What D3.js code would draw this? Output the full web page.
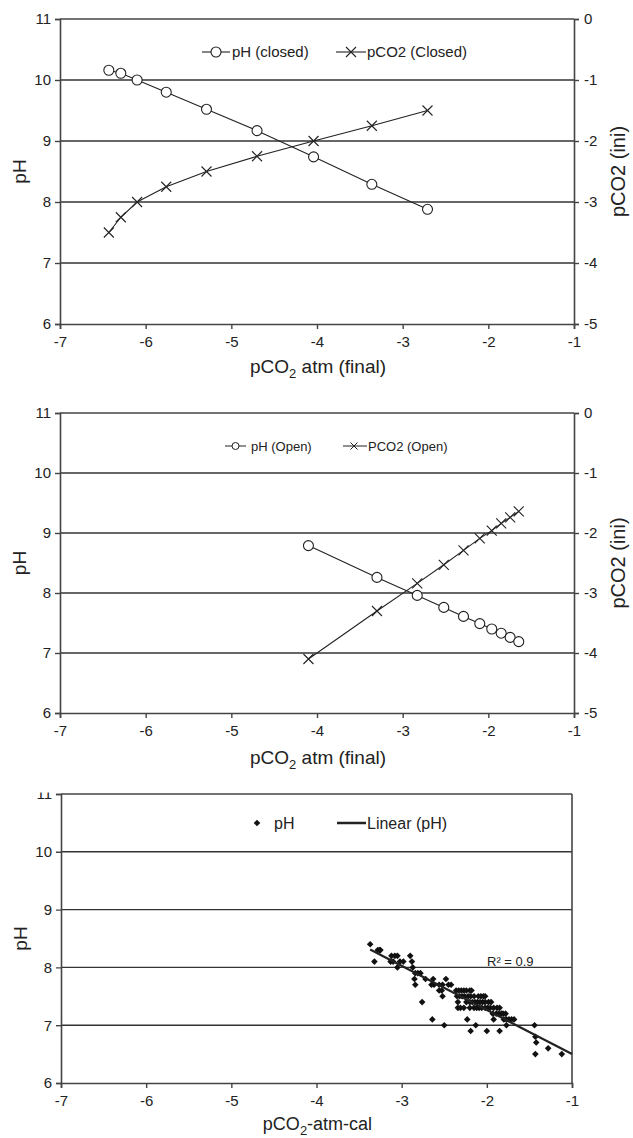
<!DOCTYPE html>
<html>
<head>
<meta charset="utf-8">
<script src="https://cdn.jsdelivr.net/npm/d3@7"></script>
<style>
  html, body { margin: 0; padding: 0; background: #fff; }
  svg { display: block; font-family: Arial, "Liberation Sans", sans-serif; }
</style>
</head>
<body>
<svg id="chart" width="633" height="1138"></svg>
<script>
// ---------- data ----------
const xTicks = [-7, -6, -5, -4, -3, -2, -1];
const phTicks = [6, 7, 8, 9, 10, 11];
const iniTicks = [-5, -4, -3, -2, -1, 0];

// Panel 1: closed system
const closedX   = [-6.43, -6.29, -6.10, -5.76, -5.29, -4.70, -4.04, -3.36, -2.71];
const closedPH  = [10.16, 10.11, 10.00, 9.80, 9.52, 9.17, 8.74, 8.29, 7.88];
const closedIni = [-3.5, -3.25, -3.0, -2.75, -2.5, -2.25, -2.0, -1.75, -1.5];

// Panel 2: open system
const openX   = [-4.10, -3.30, -2.83, -2.52, -2.29, -2.10, -1.96, -1.85, -1.745, -1.645];
const openPH  = [8.79, 8.26, 7.96, 7.76, 7.61, 7.49, 7.40, 7.33, 7.26, 7.19];
const openIni = [-4.10, -3.30, -2.84, -2.53, -2.29, -2.09, -1.96, -1.84, -1.74, -1.64];

// Panel 3: measured pH vs calculated pCO2 (points grouped by pH level)
const scatterLevels = [8.4, 8.3, 8.2, 8.1, 8.0, 7.9, 7.8, 7.7, 7.6, 7.5, 7.4, 7.3, 7.2, 7.1, 7.0, 6.9, 6.8, 6.7, 6.6, 6.5];
const scatterXs = [
  [-3.37],
  [-3.28, -3.26, -3.25],
  [-3.12, -3.08, -3.05, -2.90],
  [-3.32, -3.13, -3.10, -3.02, -2.98, -2.88],
  [-3.05, -2.87],
  [-2.84, -2.81, -2.78],
  [-2.85, -2.72, -2.63, -2.48],
  [-2.84, -2.65, -2.62, -2.56, -2.52, -2.45, -2.42],
  [-2.56, -2.53, -2.36, -2.33, -2.30, -2.27, -2.24, -2.20, -2.18],
  [-2.52, -2.35, -2.32, -2.29, -2.26, -2.22, -2.19, -2.15, -2.10, -2.07, -2.04, -2.02],
  [-2.76, -2.34, -2.24, -2.20, -2.17, -2.14, -2.11, -2.08, -2.05, -2.02, -1.98, -1.95],
  [-2.34, -2.31, -2.27, -2.20, -2.15, -2.12, -2.09, -2.06, -2.02, -1.99, -1.96, -1.92, -1.88, -1.85],
  [-1.93, -1.89, -1.86, -1.83, -1.81, -1.78],
  [-2.64, -2.23, -1.92, -1.80, -1.77, -1.74, -1.71, -1.68],
  [-2.50, -2.13, -1.77, -1.44],
  [-2.19, -2.00, -1.85],
  [-1.43],
  [-1.42],
  [-1.28],
  [-1.43, -1.12]
];
const trendX  = [-3.37, -1.0];
const trendPH = [8.31, 6.50];
const rSquaredLabel = "R² = 0.9";

// ---------- drawing ----------
const svg = d3.select("#chart");
const INK = "#222";
const FRAME = "#444";
const TICK_FONT = "15px";

function panel(opt) {
  const g = svg.append("g");
  if (opt.clipTop != null) {
    const id = "clip" + Math.round(opt.top);
    svg.append("clipPath").attr("id", id).append("rect")
      .attr("x", 0).attr("y", opt.clipTop).attr("width", 633).attr("height", 1138 - opt.clipTop);
    g.attr("clip-path", `url(#${id})`);
  }
  const x = d3.scaleLinear().domain([-7, -1]).range([opt.left, opt.right]);
  const y = d3.scaleLinear().domain([6, 11]).range([opt.bottom, opt.top]);

  g.append("g").selectAll("line").data(phTicks.filter(t => t > 6 && t < 11)).join("line")
    .attr("x1", opt.left).attr("x2", opt.right)
    .attr("y1", d => y(d)).attr("y2", d => y(d))
    .attr("stroke", "#333").attr("stroke-width", 1.4);
  g.append("line").attr("x1", opt.left).attr("x2", opt.right)
    .attr("y1", y(11)).attr("y2", y(11)).attr("stroke", FRAME).attr("stroke-width", 1.6);

  const la = g.append("g").attr("transform", `translate(${opt.left},0)`)
    .call(d3.axisLeft(y).tickValues(phTicks).tickSize(5).tickPadding(4).tickFormat(d3.format("d")));
  const ba = g.append("g").attr("transform", `translate(0,${opt.bottom})`)
    .call(d3.axisBottom(x).tickValues(xTicks).tickSize(5).tickPadding(7).tickFormat(d => "-" + Math.abs(d)));
  [la, ba].forEach(a => {
    a.select(".domain").attr("stroke", FRAME).attr("stroke-width", 1.6);
    a.selectAll(".tick line").attr("stroke", FRAME).attr("stroke-width", 1.4);
    a.selectAll("text").attr("fill", INK).style("font-size", TICK_FONT);
  });
  if (opt.rightAxis) {
    const yr = d3.scaleLinear().domain([-5, 0]).range([opt.bottom, opt.top]);
    const ra = g.append("g").attr("transform", `translate(${opt.right},0)`)
      .call(d3.axisRight(yr).tickValues(iniTicks).tickSize(5).tickPadding(5).tickFormat(d => d === 0 ? "0" : "-" + Math.abs(d)));
    ra.select(".domain").attr("stroke", FRAME).attr("stroke-width", 1.6);
    ra.selectAll(".tick line").attr("stroke", FRAME).attr("stroke-width", 1.4);
    ra.selectAll("text").attr("fill", INK).style("font-size", TICK_FONT);
    g.append("text").attr("transform", `translate(${opt.right + 44},${(opt.top + opt.bottom) / 2}) rotate(-90)`)
      .attr("text-anchor", "middle").attr("dy", "0.35em").attr("fill", INK).style("font-size", "20px")
      .text("pCO2 (ini)");
    opt.yr = yr;
  } else {
    g.append("line").attr("x1", opt.right).attr("x2", opt.right)
      .attr("y1", opt.top).attr("y2", opt.bottom).attr("stroke", FRAME).attr("stroke-width", 1.6);
  }
  g.append("text").attr("transform", `translate(${opt.left - 41},${(opt.top + opt.bottom) / 2}) rotate(-90)`)
    .attr("text-anchor", "middle").attr("dy", "0.35em").attr("fill", INK).style("font-size", "19px")
    .text("pH");
  const tt = g.append("text").attr("x", (opt.left + opt.right) / 2 + 1).attr("y", opt.titleY)
    .attr("text-anchor", "middle").attr("fill", INK).style("font-size", opt.titleSize + "px");
  tt.append("tspan").text("pCO");
  tt.append("tspan").attr("dy", 5).style("font-size", Math.round(opt.titleSize * 0.7) + "px").text("2");
  tt.append("tspan").attr("dy", -5).text(opt.titleRest);

  opt.x = x; opt.y = y; opt.g = g;
  return opt;
}

function circles(g, xs, ys, sx, sy, r) {
  g.append("g").selectAll("circle").data(xs.map((v, i) => [v, ys[i]])).join("circle")
    .attr("cx", d => sx(d[0])).attr("cy", d => sy(d[1])).attr("r", r)
    .attr("fill", "#fff").attr("stroke", INK).attr("stroke-width", 1.1);
}
function crosses(g, xs, ys, sx, sy, h) {
  g.append("g").selectAll("path").data(xs.map((v, i) => [v, ys[i]])).join("path")
    .attr("d", d => {
      const cx = sx(d[0]), cy = sy(d[1]);
      return `M${cx - h},${cy - h}L${cx + h},${cy + h}M${cx - h},${cy + h}L${cx + h},${cy - h}`;
    })
    .attr("stroke", INK).attr("stroke-width", 1.1).attr("fill", "none");
}
function polyline(g, xs, ys, sx, sy, w) {
  g.append("path").datum(xs.map((v, i) => [v, ys[i]]))
    .attr("d", d3.line().x(d => sx(d[0])).y(d => sy(d[1])))
    .attr("fill", "none").attr("stroke", INK).attr("stroke-width", w);
}

// ---- Panel 1 ----
const p1 = panel({ left: 60, right: 574, top: 19, bottom: 324, rightAxis: true, titleY: 373, titleSize: 19, titleRest: " atm (final)" });
polyline(p1.g, closedX, closedPH, p1.x, p1.y, 1.1);
polyline(p1.g, closedX, closedIni, p1.x, p1.yr, 1.1);
circles(p1.g, closedX, closedPH, p1.x, p1.y, 5);
crosses(p1.g, closedX, closedIni, p1.x, p1.yr, 5);
{
  const lg = p1.g.append("g").attr("transform", "translate(0,52)");
  lg.append("line").attr("x1", 202).attr("x2", 230).attr("stroke", INK).attr("stroke-width", 1.1);
  lg.append("circle").attr("cx", 216).attr("r", 5).attr("fill", "#fff").attr("stroke", INK).attr("stroke-width", 1.1);
  lg.append("text").attr("x", 232).attr("dy", "0.35em").attr("fill", INK).style("font-size", "15px").text("pH (closed)");
  lg.append("line").attr("x1", 336).attr("x2", 366).attr("stroke", INK).attr("stroke-width", 1.1);
  lg.append("path").attr("d", "M346,-5L356,5M346,5L356,-5").attr("stroke", INK).attr("stroke-width", 1.1);
  lg.append("text").attr("x", 367).attr("dy", "0.35em").attr("fill", INK).style("font-size", "15px").text("pCO2 (Closed)");
}

// ---- Panel 2 ----
const p2 = panel({ left: 60, right: 574, top: 413, bottom: 713, rightAxis: true, titleY: 764, titleSize: 19, titleRest: " atm (final)" });
polyline(p2.g, openX, openPH, p2.x, p2.y, 1.1);
polyline(p2.g, openX, openIni, p2.x, p2.yr, 1.1);
circles(p2.g, openX, openPH, p2.x, p2.y, 5);
crosses(p2.g, openX, openIni, p2.x, p2.yr, 5);
{
  const lg = p2.g.append("g").attr("transform", "translate(0,446)");
  lg.append("line").attr("x1", 225).attr("x2", 246).attr("stroke", INK).attr("stroke-width", 1);
  lg.append("circle").attr("cx", 235.5).attr("r", 3.5).attr("fill", "#fff").attr("stroke", INK).attr("stroke-width", 1);
  lg.append("text").attr("x", 251).attr("dy", "0.35em").attr("fill", INK).style("font-size", "13px").text("pH (Open)");
  lg.append("line").attr("x1", 343).attr("x2", 367).attr("stroke", INK).attr("stroke-width", 1);
  lg.append("path").attr("d", "M350.5,-3.5L357.5,3.5M350.5,3.5L357.5,-3.5").attr("stroke", INK).attr("stroke-width", 1);
  lg.append("text").attr("x", 368).attr("dy", "0.35em").attr("fill", INK).style("font-size", "13px").text("PCO2 (Open)");
}

// ---- Panel 3 ----
const p3 = panel({ left: 61, right: 572, top: 794, bottom: 1083, rightAxis: false, clipTop: 792.5, titleY: 1130, titleSize: 18, titleRest: "-atm-cal" });
const scatterPts = [];
scatterLevels.forEach((lv, i) => scatterXs[i].forEach(v => scatterPts.push([v, lv])));
const diamond = d3.symbol().type(d3.symbolSquare).size(22);
p3.g.append("g").selectAll("path").data(scatterPts).join("path")
  .attr("transform", d => `translate(${p3.x(d[0])},${p3.y(d[1])}) rotate(45)`)
  .attr("d", diamond).attr("fill", "#111");
polyline(p3.g, trendX, trendPH, p3.x, p3.y, 2.2);
p3.g.append("text").attr("x", 487).attr("y", 966).attr("fill", INK).style("font-size", "13px").text(rSquaredLabel);
{
  const lg = p3.g.append("g").attr("transform", "translate(0,823)");
  lg.append("path").attr("transform", "translate(257,0) rotate(45)").attr("d", diamond).attr("fill", "#111");
  lg.append("text").attr("x", 274).attr("dy", "0.35em").attr("fill", INK).style("font-size", "16px").text("pH");
  lg.append("line").attr("x1", 337).attr("x2", 366).attr("stroke", INK).attr("stroke-width", 2.4);
  lg.append("text").attr("x", 367).attr("dy", "0.35em").attr("fill", INK).style("font-size", "16px").text("Linear (pH)");
}
</script>
</body>
</html>
